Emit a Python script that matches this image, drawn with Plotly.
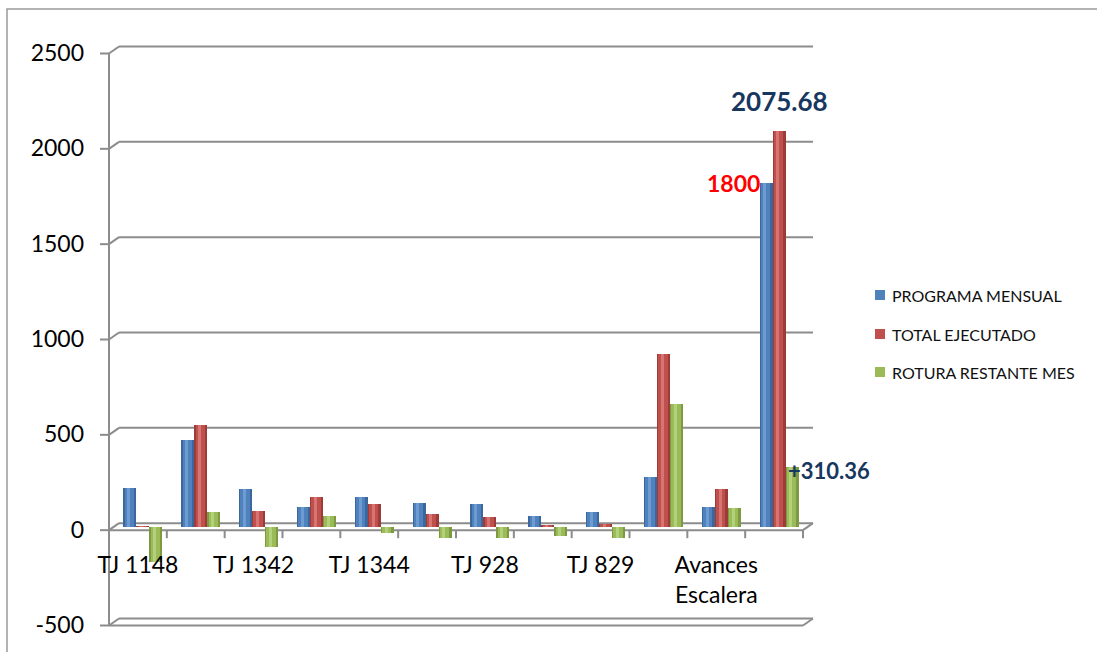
import plotly.graph_objects as go

# ---- data -------------------------------------------------------------
tick_labels = ["TJ 1148", "TJ 1342", "TJ 1344", "TJ 928", "TJ 829", "Avances<br>Escalera"]
tick_positions = [0, 2, 4, 6, 8, 10]
groups = list(range(12))

programa_mensual = [205, 455, 198, 104, 156, 125, 120, 57, 78, 263, 104, 1800]
total_ejecutado = [3, 531, 83, 156, 120, 68, 52, 8, 15, 903, 200, 2075.68]
rotura_restante = [-185, 78, -109, 57, -31, -57, -62, -47, -62, 645, 98, 310.36]

series_names = ["PROGRAMA MENSUAL", "TOTAL EJECUTADO", "ROTURA RESTANTE MES"]
y_ticks = [-500, 0, 500, 1000, 1500, 2000, 2500]
y_tick_text = ["-500", "0", "500", "1000", "1500", "2000", "2500"]

# ---- geometry / style -------------------------------------------------
W, H = 1097, 652
ML, MR, MT, MB = 114, 289, 50, 30
PW, PH = W - ML - MR, H - MT - MB
Y0, Y1 = -500, 2500
DX, DY = 5, 3.5          # half depth of the pseudo-3D box, px
GRID = "#8c8c8c"
FONT = "Lato"

base_cols = ["#4F81BD", "#C0504D", "#9BBB59"]
edge_cols = ["#3b679c", "#9c3b38", "#7d9a43"]
light_cols = ["#6f9bd3", "#d67572", "#b3d17a"]


def px_x(px):
    return (px - ML) / PW


def px_y(py):
    return (H - MB - py) / PH


def val_py(v):
    return MT + (Y1 - v) / (Y1 - Y0) * PH


cat_w = PW / len(groups)

fig = go.Figure()

# cylinder-like bars: dark body, main colour core, light highlight strip
bar_w = 0.225
offsets = [-0.3375, -0.1125, 0.1125]
for i, vals in enumerate([programa_mensual, total_ejecutado, rotura_restante]):
    fig.add_trace(go.Bar(x=groups, y=vals, width=bar_w, offset=offsets[i],
                         marker=dict(color=edge_cols[i], line=dict(width=0)),
                         name=series_names[i], showlegend=False))
    fig.add_trace(go.Bar(x=groups, y=vals, width=bar_w * 0.72,
                         offset=offsets[i] + bar_w * 0.1,
                         marker=dict(color=base_cols[i], line=dict(width=0)),
                         showlegend=False, hoverinfo="skip"))
    fig.add_trace(go.Bar(x=groups, y=vals, width=bar_w * 0.22,
                         offset=offsets[i] + bar_w * 0.3,
                         marker=dict(color=light_cols[i], line=dict(width=0)),
                         showlegend=False, hoverinfo="skip"))

shapes = []


def line(x0, y0, x1, y1, color=GRID, width=2):
    shapes.append(dict(type="line", xref="paper", yref="paper",
                       x0=px_x(x0), y0=px_y(y0), x1=px_x(x1), y1=px_y(y1),
                       line=dict(color=color, width=width), layer="below"))


left_front, right_front = ML - DX, ML + PW - DX
left_back, right_back = ML + DX, ML + PW + DX

for v in y_ticks:
    fy, by = val_py(v) + DY, val_py(v) - DY
    line(left_back, by, right_back, by)          # back wall / floor back edge
    line(left_front, fy, left_back, by)          # side wall diagonal
    line(left_front - 9, fy, left_front, fy)     # tick mark

# front vertical axis
line(left_front, val_py(Y1) + DY, left_front, val_py(Y0) + DY)

# floors at 0 and -500: front edge and right diagonal
for v in (0, Y0):
    fy, by = val_py(v) + DY, val_py(v) - DY
    line(left_front, fy, right_front, fy)
    line(right_front, fy, right_back, by)

# category boundary ticks on the zero floor
fy0 = val_py(0) + DY
for k in range(1, len(groups) + 1):
    x = left_front + k * cat_w
    line(x, fy0, x, fy0 + 8)

# chart border
shapes.append(dict(type="rect", xref="paper", yref="paper",
                   x0=px_x(7), y0=px_y(9), x1=px_x(W + 5), y1=px_y(H + 5),
                   line=dict(color="#9a9a9a", width=1.5), layer="below"))

annotations = []

# legend
legend_y = [295, 334, 372]
for i, name in enumerate(series_names):
    cy = legend_y[i]
    shapes.append(dict(type="rect", xref="paper", yref="paper",
                       x0=px_x(875), x1=px_x(885), y0=px_y(cy - 5), y1=px_y(cy + 5),
                       fillcolor=base_cols[i], line=dict(width=0)))
    annotations.append(dict(xref="paper", yref="paper", x=px_x(890), y=px_y(cy),
                            text=name, showarrow=False, xanchor="left", yanchor="middle",
                            font=dict(family=FONT, size=16, color="#111")))

# value labels on the last group
annotations.append(dict(x=11, y=total_ejecutado[11], text="<b>2075.68</b>",
                        showarrow=False, xanchor="center", yanchor="bottom", yshift=12,
                        font=dict(family=FONT, size=26, color="#17375E")))
annotations.append(dict(x=11 - 0.3, y=programa_mensual[11], text="<b>1800</b>",
                        showarrow=False, xanchor="right", yanchor="middle",
                        font=dict(family=FONT, size=23, color="#FF0000")))
annotations.append(dict(x=11 + 0.12, y=rotura_restante[11], text="<b>+310.36</b>",
                        showarrow=False, xanchor="left", yanchor="middle", yshift=-3,
                        font=dict(family=FONT, size=22, color="#17375E")))

fig.update_layout(
    width=W, height=H,
    margin=dict(l=ML, r=MR, t=MT, b=MB),
    paper_bgcolor="white", plot_bgcolor="rgba(0,0,0,0)",
    barmode="overlay", bargap=0,
    showlegend=False,
    shapes=shapes, annotations=annotations,
    xaxis=dict(range=[-0.5, 11.5], tickmode="array", tickvals=tick_positions,
               ticktext=tick_labels, showgrid=False, zeroline=False, showline=False,
               ticks="", anchor="free", position=px_y(fy0),
               ticklabelstandoff=19, ticklabelshift=-5,
               tickfont=dict(family=FONT, size=23, color="#000")),
    yaxis=dict(range=[Y0, Y1], tickmode="array", tickvals=y_ticks, ticktext=y_tick_text,
               showgrid=False, zeroline=False, showline=False, ticks="",
               ticklabelstandoff=29, ticklabelshift=3,
               tickfont=dict(family=FONT, size=23, color="#000")),
)

fig.write_html("out.html")
